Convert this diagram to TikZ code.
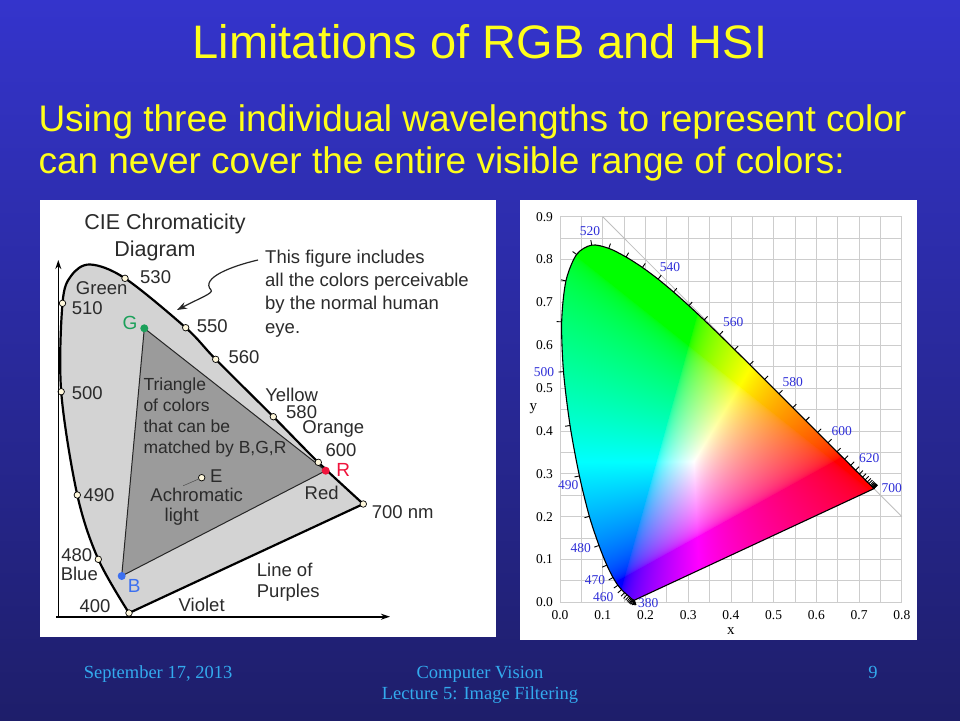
\documentclass[tikz,border=0pt]{standalone}
\usepackage{fontspec}
\setmainfont{Liberation Serif}
\setsansfont{Liberation Sans}
\usetikzlibrary{arrows.meta,calc,positioning}

\definecolor{slidetop}{HTML}{3434CC}
\definecolor{slidebot}{HTML}{1E1E6A}
\definecolor{titleyel}{HTML}{FFFF1A}
\definecolor{footblue}{HTML}{33AAEE}
\definecolor{outergray}{HTML}{D3D3D3}
\definecolor{innergray}{HTML}{9B9B9B}
\definecolor{labgray}{HTML}{2B2B2B}
\definecolor{markfill}{HTML}{FFF8DC}
\definecolor{gdot}{HTML}{1BA05A}
\definecolor{rdot}{HTML}{F0143C}
\definecolor{bdot}{HTML}{3B6FF0}
\definecolor{gridgray}{HTML}{CDCDCD}
\definecolor{nmblue}{HTML}{3030D8}

% chromaticity (x,y) -> clipped sRGB
\pgfdeclarefunctionalshading{ciefill}{\pgfpoint{-50bp}{-50bp}}{\pgfpoint{50bp}{50bp}}{}{
  25 add 0.018 mul dup 0.002 lt {pop 0.002} if
  exch 25 add 0.016 mul
  2 copy add 1 exch sub 2 index div
  3 1 roll exch div
  dup 3.2406 mul 1.5372 sub 2 index 0.4986 mul sub
  1 index -0.9689 mul 1.8758 add 3 index 0.0415 mul add
  2 index 0.0557 mul 0.2040 sub 4 index 1.0570 mul add
  5 -2 roll pop pop
  dup 0 lt {pop 0} if 3 1 roll
  dup 0 lt {pop 0} if 3 1 roll
  dup 0 lt {pop 0} if 3 1 roll
  2 index 2 index 2 copy lt {exch} if pop
  1 index 2 copy lt {exch} if pop
  dup 0.0001 lt {pop 0.0001} if
  1 exch div
  exch 1 index mul 3 1 roll
  exch 1 index mul 3 1 roll
  4 -1 roll mul 3 1 roll
  0.4545 exp 3 1 roll
  0.4545 exp 3 1 roll
  0.4545 exp 3 1 roll
}

\tikzset{
  slidetitle/.style={font=\sffamily\fontsize{47}{56}\selectfont, text=titleyel, anchor=base},
  slidetext/.style={font=\sffamily\fontsize{37}{42}\selectfont, text=titleyel, anchor=base west},
  foot/.style={font=\rmfamily\fontsize{18.5}{21}\selectfont, text=footblue, anchor=base},
  lab/.style={font=\sffamily\fontsize{18.5}{23.3}\selectfont, text=labgray, inner sep=0pt},
  horseshoe/.style={draw=black, line width=2.2pt, fill=outergray, line join=round},
  tri/.style={draw=black!85, line width=1pt, fill=innergray},
  wmark/.style={circle, draw=black, fill=markfill, line width=0.7pt, inner sep=0pt, minimum size=6.5pt},
  pdot/.style={circle, inner sep=0pt, minimum size=8pt},
  ticklab/.style={font=\rmfamily\fontsize{13.5}{16}\selectfont, inner sep=0pt},
  nmlab/.style={font=\rmfamily\fontsize{13.5}{16}\selectfont, text=nmblue, inner sep=0pt},
  locusline/.style={draw=black, line width=1.1pt},
}

\begin{document}
\begin{tikzpicture}[x=1pt, y=-1pt]
  \useasboundingbox (0,0) rectangle (960,720);
  \shade[top color=slidetop, bottom color=slidebot] (0,0) rectangle (960,720);

  \node[slidetitle] (title) at (480,58) {Limitations of RGB and HSI};
  \node[slidetext] (line1) at (35,131) {Using three individual wavelengths to represent color};
  \node[slidetext] (line2) at (35,173) {can never cover the entire visible range of colors:};

  % left picture
  \fill[white] (40,200) rectangle (496,637);

  \coordinate (w400) at (129,613);
  \coordinate (w480) at (98.3,559.3);
  \coordinate (w490) at (77.3,495);
  \coordinate (w500) at (61.2,391.7);
  \coordinate (w510) at (62.5,303.3);
  \coordinate (wtop1) at (71,276);
  \coordinate (wtop2) at (90,264.5);
  \coordinate (w530) at (125,278.3);
  \coordinate (w550) at (185.7,327.7);
  \coordinate (w560) at (215.7,359.3);
  \coordinate (w580) at (273.3,416.7);
  \coordinate (w600) at (318.3,462.3);
  \coordinate (w700) at (363.3,504);

  \draw[horseshoe] plot[smooth, tension=0.55] coordinates {(w400) (w480) (w490) (w500) (w510) (wtop1) (wtop2) (w530) (w550) (w560) (w580) (w600) (w700)} -- cycle;

  \coordinate (G) at (144.3,328.3);
  \coordinate (R) at (325.7,470.7);
  \coordinate (B) at (121.7,576);
  \draw[tri] (G) -- (R) -- (B) -- cycle;

  \foreach \w in {400,480,490,500,510,530,550,560,580,600,700}
    \node[wmark] (m\w) at (w\w) {};
  \node[wmark] (mE) at (201.7,477.7) {};
  \coordinate (achtip) at (183.3,485.7);
  \draw[black!70, line width=0.5pt] (mE) -- (achtip);

  \node[pdot, fill=gdot] (dG) at (G) {};
  \node[pdot, fill=rdot] (dR) at (R) {};
  \node[pdot, fill=bdot] (dB) at (B) {};

  \coordinate (orig) at (58.3,616.7);
  \coordinate (yend) at (58.3,260);
  \coordinate (xend) at (390,616.7);
  \draw[line width=1.6pt, -{Stealth[length=9pt, width=6pt]}] (orig) -- (yend);
  \draw[line width=1.6pt, -{Stealth[length=9pt, width=6pt]}] ([xshift=-2pt]orig) -- (xend);

  \node[lab, font=\sffamily\fontsize{21.5}{25}\selectfont] (head1) at (165,224) {CIE Chromaticity};
  \node[lab, font=\sffamily\fontsize{21.5}{25}\selectfont] (head2) at (155,250.7) {Diagram};
  \node[lab, anchor=north west, align=left] (note) at (265,249.5)
    {This figure includes\\all the colors perceivable\\by the normal human\\eye.};

  \node[lab, anchor=west] (l530) at (140,276.7) {530};
  \node[lab] (lgreen) at (101.7,288.3) {Green};
  \node[lab, anchor=west] (l510) at (71.7,308.3) {510};
  \node[lab, anchor=west] (l550) at (196.7,326) {550};
  \node[lab, anchor=west] (l560) at (228.3,356.7) {560};
  \node[lab, anchor=west] (l500) at (71.7,393.3) {500};
  \node[lab] (lyellow) at (291.7,395) {Yellow};
  \node[lab, anchor=west] (l580) at (286,412.3) {580};
  \node[lab] (lorange) at (333.3,429.3) {Orange};
  \node[lab] (l600) at (341,450) {600};
  \node[lab] (lred) at (321.7,493.3) {Red};
  \node[lab, anchor=west] (l700) at (371.7,511.7) {700 nm};
  \node[lab, anchor=west] (l490) at (83.3,495) {490};
  \node[lab] (l480) at (76.7,555) {480};
  \node[lab] (lblue) at (79.3,574) {Blue};
  \node[lab] (l400) at (95,606) {400};
  \node[lab] (lviolet) at (201.7,605) {Violet};
  \node[lab, anchor=north west, align=left, font=\sffamily\fontsize{18.5}{20.7}\selectfont] (lpurp) at (256.7,563) {Line of\\Purples};
  \node[lab, anchor=north west, align=left, font=\sffamily\fontsize{17.5}{20.8}\selectfont] (ltri) at (143.3,378) {Triangle\\of colors\\that can be\\matched by B,G,R};
  \node[lab, anchor=west] (lE) at (210,476) {E};
  \node[lab] (lach1) at (196.7,494.5) {Achromatic};
  \node[lab] (lach2) at (181.7,517) {light};

  \node[lab, text=gdot, font=\sffamily\fontsize{19}{22}\selectfont] (lG) at (130,323) {G};
  \node[lab, text=rdot, font=\sffamily\fontsize{19}{22}\selectfont] (lR) at (343.3,469.5) {R};
  \node[lab, text=bdot, font=\sffamily\fontsize{19}{22}\selectfont] (lB) at (134.3,586) {B};

  \coordinate (arrs) at (258,260);
  \coordinate (arrt) at (177,310);
  \draw[black!85, line width=1.2pt, -{Stealth[length=10pt, width=7pt]}]
    (arrs) .. controls (232,266) and (200,278) .. (211,290)
           .. controls (214,293) and (200,298) .. (arrt);

  % right picture
  \fill[white] (520,200) rectangle (917,640);
  \begin{scope}[shift={(560,602.3)}, x=427.3pt, y=428.4pt]
    \draw[gridgray, line width=0.8pt] (0,0) grid[step=0.05] (0.801,0.901);
    \draw[black!25, line width=0.8pt] (0.1,0.9) -- (0.8,0.2);

    \foreach \w/\cx/\cy in {380/0.1741/0.0050, 385/0.1740/0.0050, 390/0.1738/0.0049,
        395/0.1736/0.0049, 400/0.1733/0.0048, 405/0.1730/0.0048, 410/0.1726/0.0048,
        415/0.1721/0.0048, 420/0.1714/0.0051, 425/0.1703/0.0058, 430/0.1689/0.0069,
        435/0.1669/0.0086, 440/0.1644/0.0109, 445/0.1611/0.0138, 450/0.1566/0.0177,
        455/0.1510/0.0227, 460/0.1440/0.0297, 465/0.1355/0.0399, 470/0.1241/0.0578,
        475/0.1096/0.0868, 480/0.0913/0.1327, 485/0.0687/0.2007, 490/0.0454/0.2950,
        495/0.0235/0.4127, 500/0.0082/0.5384, 505/0.0039/0.6548, 510/0.0139/0.7502,
        515/0.0389/0.8120, 520/0.0743/0.8338, 525/0.1142/0.8262, 530/0.1547/0.8059,
        535/0.1929/0.7816, 540/0.2296/0.7543, 545/0.2658/0.7243, 550/0.3016/0.6923,
        555/0.3373/0.6589, 560/0.3731/0.6245, 565/0.4087/0.5896, 570/0.4441/0.5547,
        575/0.4788/0.5202, 580/0.5125/0.4866, 585/0.5448/0.4544, 590/0.5752/0.4242,
        595/0.6029/0.3965, 600/0.6270/0.3725, 605/0.6482/0.3514, 610/0.6658/0.3340,
        615/0.6801/0.3197, 620/0.6915/0.3083, 625/0.7006/0.2993, 630/0.7079/0.2920,
        635/0.7140/0.2859, 640/0.7190/0.2809, 645/0.7230/0.2770, 650/0.7260/0.2740,
        655/0.7283/0.2717, 660/0.7300/0.2700, 665/0.7311/0.2689, 670/0.7320/0.2680,
        675/0.7327/0.2673, 680/0.7334/0.2666, 685/0.7340/0.2660, 690/0.7344/0.2656,
        695/0.7346/0.2654, 700/0.7347/0.2653}
      \coordinate (c\w) at (\cx,\cy);

    \path[save path=\locus] plot[smooth, tension=0.5] coordinates {(c380) (c430) (c440) (c450) (c455) (c460) (c465)
      (c470) (c475) (c480) (c485) (c490) (c495) (c500) (c505) (c510) (c515) (c520) (c525) (c530) (c535)
      (c540) (c545) (c550) (c555) (c560) (c565) (c570) (c575) (c580) (c585) (c590) (c595) (c600) (c605)
      (c610) (c615) (c620) (c625) (c630) (c640) (c650) (c700)} -- cycle;
    \begin{scope}
      \clip[use path=\locus];
      \shade[shading=ciefill] (0,0) rectangle (0.8,0.9);
    \end{scope}
    \draw[locusline, use path=\locus];

    \foreach \w [evaluate=\w as \wa using int(\w-5), evaluate=\w as \wb using int(\w+5)] in {385,390,...,695}
      \draw[black, line width=0.9pt] let \p1 = ($(c\wb)-(c\wa)$), \n1 = {atan2(\y1,\x1)} in
        (c\w) -- ++(\n1+90:5pt);

    \foreach \i in {0,...,8}
      \node[ticklab, anchor=north] (xt\i) at (\i/10,-0.019) {0.\i};
    \foreach \i in {0,...,9}
      \node[ticklab, anchor=east] (yt\i) at (-0.016,\i/10) {0.\i};
    \node[ticklab, font=\rmfamily\fontsize{15}{17}\selectfont] (xname) at (0.4,-0.066) {x};
    \node[ticklab, font=\rmfamily\fontsize{15}{17}\selectfont] (yname) at (-0.0625,0.453) {y};
  \end{scope}

  \node[nmlab] (n520) at (590,231) {520};
  \node[nmlab] (n540) at (670,266.7) {540};
  \node[nmlab] (n560) at (733.3,322.3) {560};
  \node[nmlab] (n580) at (792.7,382.3) {580};
  \node[nmlab] (n600) at (841.7,431) {600};
  \node[nmlab] (n620) at (869.3,458.3) {620};
  \node[nmlab] (n700) at (891.7,488.3) {700};
  \node[nmlab] (n500) at (544,371.7) {500};
  \node[nmlab] (n490) at (568.3,485) {490};
  \node[nmlab] (n480) at (580.7,548.3) {480};
  \node[nmlab] (n470) at (595,580) {470};
  \node[nmlab] (n460) at (603.3,596.7) {460};
  \node[nmlab] (n380) at (648.3,603.3) {380};

  % footer
  \node[foot] (date) at (158,678) {September 17, 2013};
  \node[foot] (course) at (480,678) {Computer Vision};
  \node[foot] (lecture) at (480,699) {Lecture 5: Image Filtering};
  \node[foot] (page) at (873,678) {9};
\end{tikzpicture}
\end{document}
